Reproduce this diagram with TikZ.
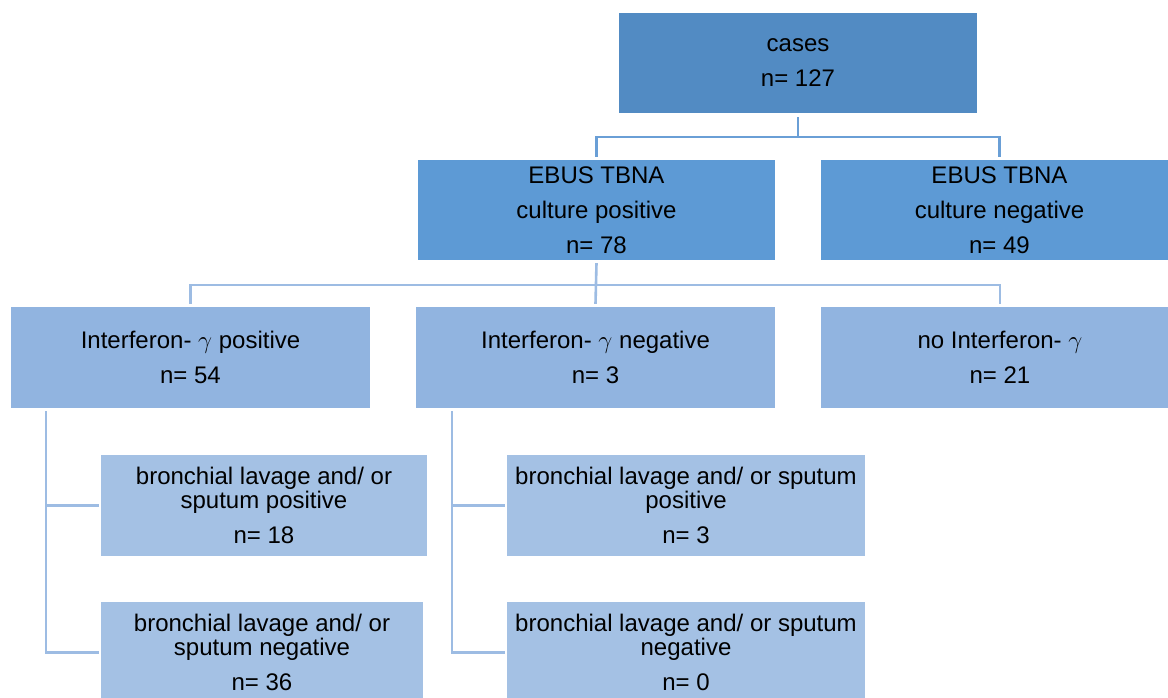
\documentclass[tikz,border=0pt]{standalone}
\usepackage{fontspec}
\setmainfont{Liberation Sans}
\usetikzlibrary{positioning,calc}
\definecolor{topblue}{HTML}{528BC3}
\definecolor{midblue}{HTML}{5D9AD5}
\definecolor{lowblue}{HTML}{91B4E0}
\definecolor{leafblue}{HTML}{A4C1E4}
\definecolor{linkdark}{HTML}{6A9FD6}
\definecolor{linklight}{HTML}{9DBCE3}
\tikzset{
  box/.style={rectangle, inner sep=0pt, align=center, text=black,
    font=\fontsize{24}{35}\selectfont},
  rootbox/.style={box, fill=topblue, minimum width=358pt, minimum height=100pt},
  cultbox/.style={box, fill=midblue, minimum width=357pt, minimum height=100pt},
  ifnbox/.style={box, fill=lowblue, minimum width=359pt, minimum height=101pt},
  leafbox/.style={box, fill=leafblue, minimum height=101pt,
    font=\fontsize{24}{24}\selectfont},
  linkA/.style={draw=linkdark, line width=2.6pt},
  linkB/.style={draw=linklight, line width=2.6pt},
}
\begin{document}
\begin{tikzpicture}[x=1pt,y=-1pt]
\useasboundingbox[fill=white] (0,0) rectangle (1168,697);

% first level
\node[rootbox] (cases) at (798,63) {cases\\n= 127};
\node[cultbox] (ebp) at (596.5,210) {EBUS TBNA\\culture positive\\n= 78};
\node[cultbox] (ebn) at (999.5,210) {EBUS TBNA\\culture negative\\n= 49};

% interferon level
\node[ifnbox] (ifp) at (190.5,357.5) {Interferon- $\gamma$ positive\\n= 54};
\node[ifnbox] (ifn) at (595.5,357.5) {Interferon- $\gamma$ negative\\n= 3};
\node[ifnbox] (ifx) at (1000,357.5) {no Interferon- $\gamma$\\n= 21};

% lavage / sputum results
\node[leafbox, minimum width=326pt] (b1) at (264,505.5)
  {bronchial lavage and/ or\\sputum positive\\[11pt]n= 18};
\node[leafbox, minimum width=322pt] (b2) at (262,652.5)
  {bronchial lavage and/ or\\sputum negative\\[11pt]n= 36};
\node[leafbox, minimum width=358pt] (b3) at (686,505.5)
  {bronchial lavage and/ or sputum\\positive\\[11pt]n= 3};
\node[leafbox, minimum width=358pt] (b4) at (686,652.5)
  {bronchial lavage and/ or sputum\\negative\\[11pt]n= 0};

% tree connectors
\coordinate (bar1) at (798,137);
\draw[linkA] ([yshift=-4pt]cases.south) -- (bar1);
\draw[linkA] ([yshift=3pt]ebp.north) |- (bar1) -| ([yshift=3pt]ebn.north);

\coordinate (bar2) at (596.5,285);
\draw[linkB] ([yshift=-3pt]ebp.south) -- ([yshift=3pt]ifn.north);
\draw[linkB] ([yshift=3pt]ifp.north) |- (bar2) -| ([yshift=3pt]ifx.north);

\coordinate (trunkL) at ($(ifp.south west)+(35,3)$);
\draw[linkB] (trunkL) |- ([xshift=-2pt]b1.west);
\draw[linkB] (trunkL) |- ([xshift=-2pt]b2.west);

\coordinate (trunkM) at ($(ifn.south west)+(36,3)$);
\draw[linkB] (trunkM) |- ([xshift=-2pt]b3.west);
\draw[linkB] (trunkM) |- ([xshift=-2pt]b4.west);
\end{tikzpicture}
\end{document}
